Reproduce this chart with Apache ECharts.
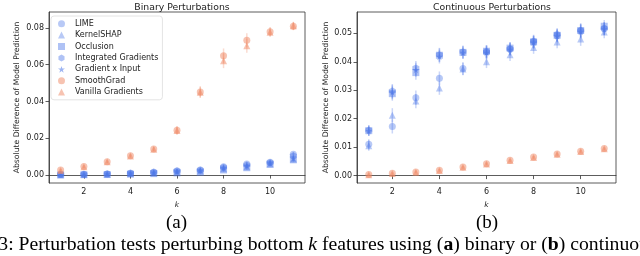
<!DOCTYPE html>
<html><head><meta charset="utf-8">
<script src="https://cdn.jsdelivr.net/npm/echarts@6/dist/echarts.min.js"></script>
<style>html,body{margin:0;padding:0;background:#fff}#c{width:640px;height:256px}</style>
</head><body><div id="c"></div>
<script>
const kValues = [1,2,3,4,5,6,7,8,9,10,11];
const methods = ['LIME','KernelSHAP','Occlusion','Integrated Gradients','Gradient x Input','SmoothGrad','Vanilla Gradients'];
const xTicks = [2,4,6,8,10];
const binTicks = [0,0.02,0.04,0.06,0.08];
const contTicks = [0,0.01,0.02,0.03,0.04,0.05];

// Binary perturbations
const binLIME = [0.0003,0.0004,0.0006,0.0010,0.0015,0.0022,0.0028,0.0045,0.0060,0.0070,0.0113];
const binKernelSHAP = [0.0002,0.0003,0.0005,0.0008,0.0012,0.0017,0.0022,0.0035,0.0045,0.0062,0.0088];
const binOcclusion = [0.0001,0.0002,0.0003,0.0005,0.0008,0.0012,0.0015,0.0028,0.0040,0.0058,0.0083];
const binIG = [0.0003,0.0005,0.0007,0.0011,0.0017,0.0023,0.0028,0.0042,0.0055,0.0068,0.0105];
const binGxI = [0.0002,0.0004,0.0006,0.0009,0.0014,0.0020,0.0025,0.0038,0.0050,0.0065,0.0090];
const binSmoothGrad = [0.0027,0.0046,0.0073,0.0105,0.0142,0.0243,0.0452,0.0648,0.0733,0.0779,0.0809];
const binVanilla = [0.0025,0.0045,0.0072,0.0104,0.0140,0.0242,0.0450,0.0621,0.0702,0.0776,0.0811];
const binErrBlue = [0.0005,0.0006,0.0007,0.0008,0.0009,0.0010,0.0011,0.0012,0.0012,0.0012,0.0013];
const binErrOrange = [0.0007,0.0008,0.0008,0.0009,0.0011,0.0022,0.0030,0.0040,0.0038,0.0025,0.0022];

// Continuous perturbations
const contLIME = [0.0110,0.0173,0.0274,0.0342,0.0376,0.0436,0.0445,0.0470,0.0492,0.0508,0.0516];
const contKernelSHAP = [0.0105,0.0212,0.0262,0.0308,0.0375,0.0400,0.0425,0.0450,0.0470,0.0480,0.0505];
const contOcclusion = [0.0158,0.0288,0.0362,0.0423,0.0433,0.0437,0.0448,0.0470,0.0493,0.0510,0.0525];
const contIG = [0.0159,0.0297,0.0378,0.0425,0.0435,0.0434,0.0446,0.0473,0.0497,0.0511,0.0518];
const contGxI = [0.0157,0.0293,0.0372,0.0418,0.0432,0.0432,0.0443,0.0468,0.0490,0.0506,0.0515];
const contSmoothGrad = [0.0004,0.0008,0.0013,0.0019,0.0030,0.0042,0.0054,0.0065,0.0076,0.0086,0.0095];
const contVanilla = [0.0003,0.0007,0.0012,0.0018,0.0029,0.0041,0.0053,0.0064,0.0075,0.0085,0.0094];
const contErrBlue = [0.0018,0.0025,0.0025,0.0024,0.0022,0.0022,0.0022,0.0022,0.0022,0.0024,0.0022];
const contErrOrange = [0.0004,0.0004,0.0005,0.0005,0.0005,0.0005,0.0005,0.0005,0.0005,0.0005,0.0005];

const BLUE = 'rgb(78,120,232)';
const ORANGE = 'rgb(240,135,100)';
const HEX = 'path://M0,-1 L0.866,-0.5 L0.866,0.5 L0,1 L-0.866,0.5 L-0.866,-0.5Z';
const STAR = 'path://M0,-1 L0.2245,-0.309 L0.951,-0.309 L0.363,0.118 L0.588,0.809 L0,0.382 L-0.588,0.809 L-0.363,0.118 L-0.951,-0.309 L-0.2245,-0.309Z';
const styles = [
  {symbol:'circle', size:7, color:BLUE, op:0.4},
  {symbol:'triangle', size:7, color:BLUE, op:0.4},
  {symbol:'rect', size:7, color:BLUE, op:0.45},
  {symbol:HEX, size:7, color:BLUE, op:0.45},
  {symbol:STAR, size:7, color:BLUE, op:0.55},
  {symbol:'circle', size:7, color:ORANGE, op:0.5},
  {symbol:'triangle', size:7, color:ORANGE, op:0.5}
];
const binData = [binLIME,binKernelSHAP,binOcclusion,binIG,binGxI,binSmoothGrad,binVanilla];
const contData = [contLIME,contKernelSHAP,contOcclusion,contIG,contGxI,contSmoothGrad,contVanilla];

function errSeries(idx, vals, errs, color){
  return {
    type:'custom', xAxisIndex:idx, yAxisIndex:idx, silent:true, z:1,
    data: kValues.map((k,i)=>[k, vals[i], errs[i]]),
    renderItem:(params, api)=>{
      const x = api.value(0), y = api.value(1), e = api.value(2);
      const p1 = api.coord([x, y-e]), p2 = api.coord([x, y+e]);
      return {type:'line', shape:{x1:p1[0],y1:p1[1],x2:p2[0],y2:p2[1]},
        style:{stroke:color, lineWidth:1.5, opacity:0.3}};
    }
  };
}
const series = [];
[[binData, binErrBlue, binErrOrange],[contData, contErrBlue, contErrOrange]].forEach(([data, eb, eo], g)=>{
  data.forEach((vals, m)=>{
    const st = styles[m];
    series.push(errSeries(g, vals, m<5?eb:eo, st.color));
    series.push({
      type:'scatter', name:methods[m], xAxisIndex:g, yAxisIndex:g, z:2,
      symbol:st.symbol, symbolSize:st.size,
      itemStyle:{color:st.color, opacity:st.op},
      data: kValues.map((k,i)=>[k, vals[i]])
    });
  });
});

const axisFont = {fontFamily:'DejaVu Sans', fontSize:8, color:'#222'};
function xAxis(idx){
  return {type:'value', gridIndex:idx, min:0.5, max:11.5,
    name:'k', nameLocation:'middle', nameGap:14,
    nameTextStyle:{fontFamily:'DejaVu Sans', fontSize:7.5, fontStyle:'italic', color:'#222'},
    splitLine:{show:false},
    axisLine:{show:true, lineStyle:{color:'#333', width:0.8}},
    axisTick:{show:true, length:3.5, customValues:xTicks, lineStyle:{color:'#333', width:0.8}},
    axisLabel:{...axisFont, margin:5, customValues:xTicks, formatter:v=>String(v)}
  };
}
function yAxis(idx, min, max, ticks){
  return {type:'value', gridIndex:idx, min:min, max:max,
    name:'Absolute Difference of Model Prediction', nameLocation:'middle', nameGap:idx===0?28:25,
    nameTextStyle:{fontFamily:'DejaVu Sans', fontSize:7.7, color:'#222'},
    splitLine:{show:false},
    axisLine:{show:true, lineStyle:{color:'#333', width:0.8}},
    axisTick:{show:true, length:3.5, customValues:ticks, lineStyle:{color:'#333', width:0.8}},
    axisLabel:{...axisFont, margin:5, customValues:ticks, formatter:v=>v.toFixed(2)}
  };
}

const chart = echarts.init(document.getElementById('c'), null, {renderer:'canvas'});
chart.setOption({
  animation:false,
  backgroundColor:'#fff',
  title:[
    {text:'Binary Perturbations', left:177, top:-2, textAlign:'center', textStyle:{fontFamily:'DejaVu Sans', fontSize:9.3, fontWeight:'normal', color:'#222'}},
    {text:'Continuous Perturbations', left:487, top:-2, textAlign:'center', textStyle:{fontFamily:'DejaVu Sans', fontSize:9.3, fontWeight:'normal', color:'#222'}}
  ],
  grid:[
    {left:49, top:12, width:256, height:171, show:true, borderColor:'#333', borderWidth:0.8, backgroundColor:'transparent'},
    {left:357, top:12, width:259, height:171, show:true, borderColor:'#333', borderWidth:0.8, backgroundColor:'transparent'}
  ],
  xAxis:[xAxis(0), xAxis(1)],
  yAxis:[yAxis(0, -0.0043, 0.0886, binTicks), yAxis(1, -0.0026, 0.0575, contTicks)],
  legend:{
    data:methods, orient:'vertical', left:51, top:16,
    itemWidth:7, itemHeight:7, itemGap:0,
    padding:[2,4,2,7],
    backgroundColor:'rgba(255,255,255,0.85)', borderColor:'#ddd', borderWidth:0.8, borderRadius:3,
    textStyle:{fontFamily:'DejaVu Sans', fontSize:8, color:'#222', lineHeight:11.4, padding:[0,0,0,5]}
  },
  series:series,
  graphic:[
    {type:'text', left:166, top:214, style:{text:'(a)', fontFamily:'Liberation Serif', fontSize:19, fill:'#000'}},
    {type:'text', left:476, top:214, style:{text:'(b)', fontFamily:'Liberation Serif', fontSize:19, fill:'#000'}},
    {type:'text', left:-58, top:235, style:{
      text:'Figure 3: Perturbation tests perturbing bottom {i|k} features using ({b|a}) binary or ({b|b}) continuous perturbations.',
      fontFamily:'Liberation Serif', fontSize:19.7, fill:'#000',
      rich:{i:{fontFamily:'Liberation Serif', fontSize:19.7, fontStyle:'italic'}, b:{fontFamily:'Liberation Serif', fontSize:19.7, fontWeight:'bold'}}
    }}
  ]
});
</script></body></html>
